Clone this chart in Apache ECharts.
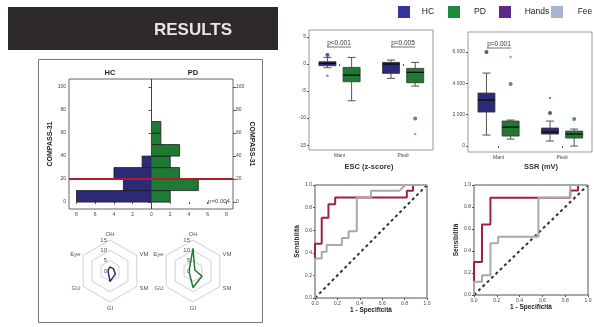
<!DOCTYPE html>
<html><head><meta charset="utf-8">
<script src="https://cdn.jsdelivr.net/npm/echarts@6/dist/echarts.min.js"></script>
<style>html,body{margin:0;padding:0;background:#fff}#c{width:595px;height:327px}</style>
</head><body><div id="c"></div>
<script>
// ---------- data ----------
// COMPASS-31 histogram (bins of 10)
const binStarts = [0, 10, 20, 30, 40, 50, 60];
const binWidth = 10;
const hcCounts = [8, 3, 4, 1, 0, 0, 0];
const pdCounts = [2, 5, 3, 2, 3, 1, 1];
const histXTicks = [-8, -6, -4, -2, 0, 2, 4, 6, 8];
const histYTicks = [0, 20, 40, 60, 80, 100];
const cutoff = 20;
// radar
const radarAxes = ['OH', 'Eye', 'GU', 'GI', 'SM', 'VM'];
const radarMax = 15;
const radarHC = [2, 1, 1, 5, 3, 2];
const radarPD = [11, 2, 2, 8, 5, 1];
// box plots [min, q1, median, q3, max] per category
const boxCats = ['Mani', 'Piedi'];
const escHC = [[-0.68, -0.31, 0.12, 0.43, 1.23], [-2.65, -1.73, 0, 0.31, 0.74]];
const escPD = [[-6.8, -3.27, -2.04, -0.62, 1.23], [-4.07, -3.46, -1.54, -0.8, 0.31]];
const escHCDark = [['Mani', 1.67]];
const escHCLight = [['Mani', -2.16]];
const escPDDark = [['Piedi', -10.06]];
const escPDLight = [['Piedi', -12.96]];
const escTicks = [-15, -10, -5, 0, 5];
const ssrHC = [[702, 2170, 2936, 3383, 4659], [319, 766, 893, 1149, 1595]];
const ssrPD = [[447, 638, 1212, 1595, 1660], [0, 510, 766, 957, 1085]];
const ssrHCDark = [['Mani', 6000], ['Piedi', 2106]];
const ssrHCLight = [['Piedi', 3063]];
const ssrPDDark = [['Mani', 3957], ['Piedi', 1723]];
const ssrPDLight = [['Mani', 5680]];
const ssrTicks = [0, 2000, 4000, 6000];
// ROC curves [1-specificity, sensitivity]
const rocManiRed = [[0,0],[0,0.48],[0.06,0.48],[0.06,0.71],[0.12,0.71],[0.12,0.83],[0.18,0.83],[0.18,0.89],[0.82,0.89],[0.82,0.95],[0.875,0.95],[0.875,1],[1,1]];
const rocManiGrey = [[0,0],[0,0.35],[0.06,0.35],[0.06,0.41],[0.104,0.41],[0.104,0.47],[0.24,0.47],[0.24,0.53],[0.3,0.53],[0.3,0.59],[0.373,0.59],[0.373,0.89],[0.5,0.89],[0.5,0.95],[0.755,0.95],[0.806,1],[1,1]];
const rocPiediRed = [[0,0],[0,0.3],[0.07,0.3],[0.07,0.64],[0.144,0.64],[0.144,0.885],[0.844,0.885],[0.844,0.95],[0.912,0.95],[0.912,1],[1,1]];
const rocPiediGrey = [[0,0],[0,0.12],[0.07,0.12],[0.07,0.18],[0.144,0.18],[0.144,0.47],[0.212,0.47],[0.212,0.53],[0.565,0.53],[0.565,0.885],[0.844,0.885],[0.844,1],[1,1]];
const rocTicks = [0, 0.2, 0.4, 0.6, 0.8, 1.0];
const diag = [[0,0],[1,1]];

// ---------- styles ----------
const C_HC = '#2d2a78', C_PD = '#1f7a34', C_RED = '#a31f48', C_GREY = '#a9a9a9';
const C_HC_L = '#5a6ad0', C_PD_L = '#3fbf5f';
const FONT = 'Liberation Sans';

const chart = echarts.init(document.getElementById('c'), null, {renderer: 'canvas'});

function histData(counts, sign) {
  const out = [];
  counts.forEach((c, i) => { if (c > 0) out.push([binStarts[i], binStarts[i] + binWidth, sign * c]); });
  return out;
}
function histRender(color) {
  return function (params, api) {
    const p0 = api.coord([0, api.value(0)]);
    const p1 = api.coord([api.value(2), api.value(1)]);
    return {type: 'rect', shape: {x: Math.min(p0[0], p1[0]), y: p1[1], width: Math.abs(p1[0] - p0[0]), height: p0[1] - p1[1]},
      style: {fill: color, stroke: '#1a1a1a', lineWidth: 0.8}};
  };
}
function boxData(arr) { return arr.map((b, i) => [i + 1].concat(b)); }
function outData(arr) { return arr.map(d => [boxCats.indexOf(d[0]) + 1, d[1]]); }
function boxRender(offset, color) {
  return function (params, api) {
    const x = api.value(0) + offset;
    const mn = api.coord([x, api.value(1)]), q1 = api.coord([x, api.value(2)]),
      md = api.coord([x, api.value(3)]), q3 = api.coord([x, api.value(4)]), mx = api.coord([x, api.value(5)]);
    const cx = mn[0], w = 17, cw = 8;
    const ls = {stroke: '#555', lineWidth: 1};
    return {type: 'group', children: [
      {type: 'line', shape: {x1: cx, y1: mx[1], x2: cx, y2: q3[1]}, style: ls},
      {type: 'line', shape: {x1: cx, y1: q1[1], x2: cx, y2: mn[1]}, style: ls},
      {type: 'line', shape: {x1: cx - cw / 2, y1: mx[1], x2: cx + cw / 2, y2: mx[1]}, style: ls},
      {type: 'line', shape: {x1: cx - cw / 2, y1: mn[1], x2: cx + cw / 2, y2: mn[1]}, style: ls},
      {type: 'rect', shape: {x: cx - w / 2, y: q3[1], width: w, height: q1[1] - q3[1]}, style: {fill: color, stroke: '#333', lineWidth: 0.8}},
      {type: 'line', shape: {x1: cx - w / 2, y1: md[1], x2: cx + w / 2, y2: md[1]}, style: {stroke: '#0a0a0a', lineWidth: 1.3}}
    ]};
  };
}
function outOffset(arr, off) { return outData(arr).map(d => [d[0] + off, d[1]]); }

const tickLbl = {fontSize: 5, color: '#444', fontFamily: FONT, margin: 3};
const OFF = 0.19;

function boxAxes(gi, ymin, ymax, yt, fmt) {
  return {
    x: {type: 'value', gridIndex: gi, min: 0.52, max: 2.47,
      axisLine: {show: false}, splitLine: {show: false},
      axisTick: {show: true, length: 2, customValues: [1, 2], lineStyle: {color: '#555'}},
      axisLabel: Object.assign({customValues: [1, 2], formatter: v => boxCats[Math.round(v) - 1]}, tickLbl)},
    y: {type: 'value', gridIndex: gi, min: ymin, max: ymax,
      axisLine: {show: false}, splitLine: {show: false},
      axisTick: {show: true, length: 2, customValues: yt, lineStyle: {color: '#555'}},
      axisLabel: Object.assign({customValues: yt, formatter: fmt}, tickLbl)}
  };
}
const escAx = boxAxes(1, -15.9, 6.3, escTicks, v => String(v));
const ssrAx = boxAxes(2, -380, 7280, ssrTicks, v => v === 0 ? '0' : (v / 1000).toFixed(0) + '.000');

function rocAxes(gi) {
  return {
    x: {type: 'value', gridIndex: gi, min: 0, max: 1, interval: 0.2,
      axisLine: {show: false}, splitLine: {show: false},
      axisTick: {show: true, length: 2, lineStyle: {color: '#555'}},
      axisLabel: Object.assign({formatter: v => v.toFixed(1)}, tickLbl),
      name: '1 - Specificità', nameLocation: 'middle', nameGap: 9,
      nameTextStyle: {fontSize: 6.5, fontWeight: 'bold', color: '#222', fontFamily: FONT}},
    y: {type: 'value', gridIndex: gi, min: 0, max: 1, interval: 0.2,
      axisLine: {show: false}, splitLine: {show: false},
      axisTick: {show: true, length: 2, lineStyle: {color: '#555'}},
      axisLabel: Object.assign({formatter: v => v.toFixed(1)}, tickLbl),
      name: 'Sensibilità', nameLocation: 'middle', nameGap: 11, nameRotate: 90,
      nameTextStyle: {fontSize: 6.5, fontWeight: 'bold', color: '#222', fontFamily: FONT}}
  };
}
const roc1 = rocAxes(3), roc2 = rocAxes(4);

function scat(xi, yi, data, color, size, sym) {
  return {type: 'scatter', xAxisIndex: xi, yAxisIndex: yi, data: data, symbol: sym || 'circle', symbolSize: size,
    itemStyle: {color: color}, silent: true, z: 5};
}
function rocLine(xi, data, color, width, dash) {
  return {type: 'line', xAxisIndex: xi, yAxisIndex: xi, data: data, showSymbol: false, symbol: 'none', silent: true,
    lineStyle: {color: color, width: width, type: dash || 'solid'}, z: dash ? 1 : 3};
}

function txt(x, y, s, size, weight, color, align, rot) {
  return {type: 'text', x: x, y: y, rotation: rot || 0, silent: true,
    style: {text: s, fontSize: size, fontWeight: weight || 'normal', fill: color || '#222', fontFamily: FONT,
      align: align || 'center', verticalAlign: 'middle'}};
}
function ln(x1, y1, x2, y2, color, w) {
  return {type: 'line', silent: true, shape: {x1: x1, y1: y1, x2: x2, y2: y2}, style: {stroke: color, lineWidth: w || 1}};
}

const option = {
  backgroundColor: '#fff',
  animation: false,
  grid: [
    {left: 69, top: 79, width: 164, height: 130, show: true, borderColor: '#666', borderWidth: 1, backgroundColor: 'transparent'},
    {left: 309, top: 30, width: 124, height: 120, show: true, borderColor: '#999', borderWidth: 1},
    {left: 468, top: 32, width: 124, height: 120, show: true, borderColor: '#999', borderWidth: 1},
    {left: 315, top: 185, width: 112, height: 113, show: true, borderColor: '#555', borderWidth: 1},
    {left: 474, top: 185, width: 114, height: 110, show: true, borderColor: '#555', borderWidth: 1}
  ],
  xAxis: [
    {type: 'value', gridIndex: 0, min: -8.8, max: 8.7,
      axisLine: {show: false}, splitLine: {show: false},
      axisTick: {show: true, length: 2, customValues: histXTicks, lineStyle: {color: '#555'}},
      axisLabel: Object.assign({customValues: histXTicks, formatter: v => String(Math.abs(v))}, tickLbl)},
    escAx.x, ssrAx.x, roc1.x, roc2.x
  ],
  yAxis: [
    {type: 'value', gridIndex: 0, min: -6, max: 107, position: 'left',
      axisLine: {show: false}, splitLine: {show: false},
      axisTick: {show: true, length: 3, customValues: histYTicks, lineStyle: {color: '#555'}},
      axisLabel: Object.assign({customValues: histYTicks}, tickLbl),
      name: 'COMPASS-31', nameLocation: 'middle', nameGap: 13, nameRotate: 90,
      nameTextStyle: {fontSize: 7, fontWeight: 'bold', color: '#222', fontFamily: FONT}},
    escAx.y, ssrAx.y, roc1.y, roc2.y,
    {type: 'value', gridIndex: 0, min: -6, max: 107, position: 'right',
      axisLine: {show: false}, splitLine: {show: false},
      axisTick: {show: true, length: 3, customValues: histYTicks, lineStyle: {color: '#555'}},
      axisLabel: Object.assign({customValues: histYTicks}, tickLbl),
      name: 'COMPASS-31', nameLocation: 'middle', nameGap: 13, nameRotate: -90,
      nameTextStyle: {fontSize: 7, fontWeight: 'bold', color: '#222', fontFamily: FONT}}
  ],
  radar: [
    {center: [110, 271], radius: 31, startAngle: 90, splitNumber: 3, shape: 'polygon',
      indicator: radarAxes.map((n, i) => i === 0 ? {name: n, min: 0, max: radarMax, axisLabel: {show: true, fontSize: 6, color: '#555', margin: 3}} : {name: n, min: 0, max: radarMax}),
      axisName: {color: '#555', fontSize: 6, fontFamily: FONT}, nameGap: 3,
      axisLine: {show: false}, axisTick: {show: false}, axisLabel: {show: false},
      splitLine: {lineStyle: {color: '#cfcfcf', width: 1}}, splitArea: {show: false}},
    {center: [193, 271], radius: 31, startAngle: 90, splitNumber: 3, shape: 'polygon',
      indicator: radarAxes.map((n, i) => i === 0 ? {name: n, min: 0, max: radarMax, axisLabel: {show: true, fontSize: 6, color: '#555', margin: 3}} : {name: n, min: 0, max: radarMax}),
      axisName: {color: '#555', fontSize: 6, fontFamily: FONT}, nameGap: 3,
      axisLine: {show: false}, axisTick: {show: false}, axisLabel: {show: false},
      splitLine: {lineStyle: {color: '#cfcfcf', width: 1}}, splitArea: {show: false}}
  ],
  series: [
    {type: 'custom', name: 'HC', xAxisIndex: 0, yAxisIndex: 0, data: histData(hcCounts, -1), renderItem: histRender(C_HC), silent: true},
    {type: 'custom', name: 'PD', xAxisIndex: 0, yAxisIndex: 0, data: histData(pdCounts, 1), renderItem: histRender(C_PD), silent: true,
      markLine: {silent: true, symbol: 'none', label: {show: false},
        data: [{xAxis: 0, lineStyle: {color: '#444', width: 1, type: 'solid'}},
               {yAxis: cutoff, lineStyle: {color: '#b01c2c', width: 2, type: 'solid'}}]}},
    {type: 'radar', radarIndex: 0, symbol: 'none', silent: true, lineStyle: {color: C_HC, width: 1.5},
      data: [{value: radarHC, name: 'HC'}]},
    {type: 'radar', radarIndex: 1, symbol: 'none', silent: true, lineStyle: {color: C_PD, width: 1.5},
      data: [{value: radarPD, name: 'PD'}]},
    // ESC
    {type: 'custom', xAxisIndex: 1, yAxisIndex: 1, data: boxData(escHC), renderItem: boxRender(-OFF, C_HC), silent: true},
    {type: 'custom', xAxisIndex: 1, yAxisIndex: 1, data: boxData(escPD), renderItem: boxRender(OFF, C_PD), silent: true},
    scat(1, 1, outOffset(escHCDark, -OFF), C_HC, 4, 'circle'),
    scat(1, 1, outOffset(escHCLight, -OFF), C_HC_L, 2.5, 'circle'),
    scat(1, 1, outOffset(escPDDark, OFF), C_PD, 4, 'circle'),
    scat(1, 1, outOffset(escPDLight, OFF), C_PD_L, 2.5, 'circle'),
    // SSR
    {type: 'custom', xAxisIndex: 2, yAxisIndex: 2, data: boxData(ssrHC), renderItem: boxRender(-OFF, C_HC), silent: true},
    {type: 'custom', xAxisIndex: 2, yAxisIndex: 2, data: boxData(ssrPD), renderItem: boxRender(OFF, C_PD), silent: true},
    scat(2, 2, outOffset(ssrHCDark, -OFF), C_HC, 4, 'circle'),
    scat(2, 2, outOffset(ssrHCLight, -OFF), C_HC_L, 2.5, 'circle'),
    scat(2, 2, outOffset(ssrPDDark, OFF), C_PD, 4, 'circle'),
    scat(2, 2, outOffset(ssrPDLight, OFF), C_PD_L, 2.5, 'circle'),
    // ROC
    rocLine(3, diag, '#333', 2, [3, 3]),
    rocLine(3, rocManiRed, C_RED, 2),
    rocLine(3, rocManiGrey, C_GREY, 2),
    rocLine(4, diag, '#333', 2, [3, 3]),
    rocLine(4, rocPiediRed, C_RED, 2),
    rocLine(4, rocPiediGrey, C_GREY, 2)
  ],
  graphic: [
    {type: 'rect', silent: true, shape: {x: 8, y: 7, width: 270, height: 43}, style: {fill: '#2f2a2a'}},
    txt(193, 30, 'RESULTS', 17, 'bold', '#e6e6e6'),
    {type: 'rect', silent: true, shape: {x: 38.5, y: 59.5, width: 224, height: 263}, style: {fill: 'none', stroke: '#777', lineWidth: 1}},
    txt(110, 73, 'HC', 7.5, 'bold', '#222'),
    txt(193, 73, 'PD', 7.5, 'bold', '#222'),
    txt(219, 201, 'p=0.004', 6, 'normal', '#444'),
    // legend
    {type: 'rect', silent: true, shape: {x: 398, y: 6, width: 12, height: 12}, style: {fill: '#34349a'}},
    txt(428, 12, 'HC', 8.5, 'normal', '#222'),
    {type: 'rect', silent: true, shape: {x: 448, y: 6, width: 12, height: 12}, style: {fill: '#1d8a3c'}},
    txt(480, 12, 'PD', 8.5, 'normal', '#222'),
    {type: 'rect', silent: true, shape: {x: 499, y: 6, width: 12, height: 12}, style: {fill: '#5b2a86'}},
    txt(537, 12, 'Hands', 8.5, 'normal', '#222'),
    {type: 'rect', silent: true, shape: {x: 551, y: 6, width: 12, height: 12}, style: {fill: '#aab3d3'}},
    txt(585, 12, 'Fee', 8.5, 'normal', '#222'),
    // p-values on box plots
    txt(339, 43, 'p<0.001', 6.5, 'normal', '#333'),
    ln(327, 47, 351, 47, '#333', 0.7),
    txt(403, 43, 'p=0.005', 6.5, 'normal', '#333'),
    ln(391, 47, 415, 47, '#333', 0.7),
    txt(499, 44, 'p=0.001', 6.5, 'normal', '#333'),
    ln(487, 48, 511, 48, '#333', 0.7),
    txt(369, 167, 'ESC (z-score)', 7.5, 'bold', '#333'),
    txt(541, 167, 'SSR (mV)', 7.5, 'bold', '#333')
  ]
};
chart.setOption(option);
</script>
</body></html>
